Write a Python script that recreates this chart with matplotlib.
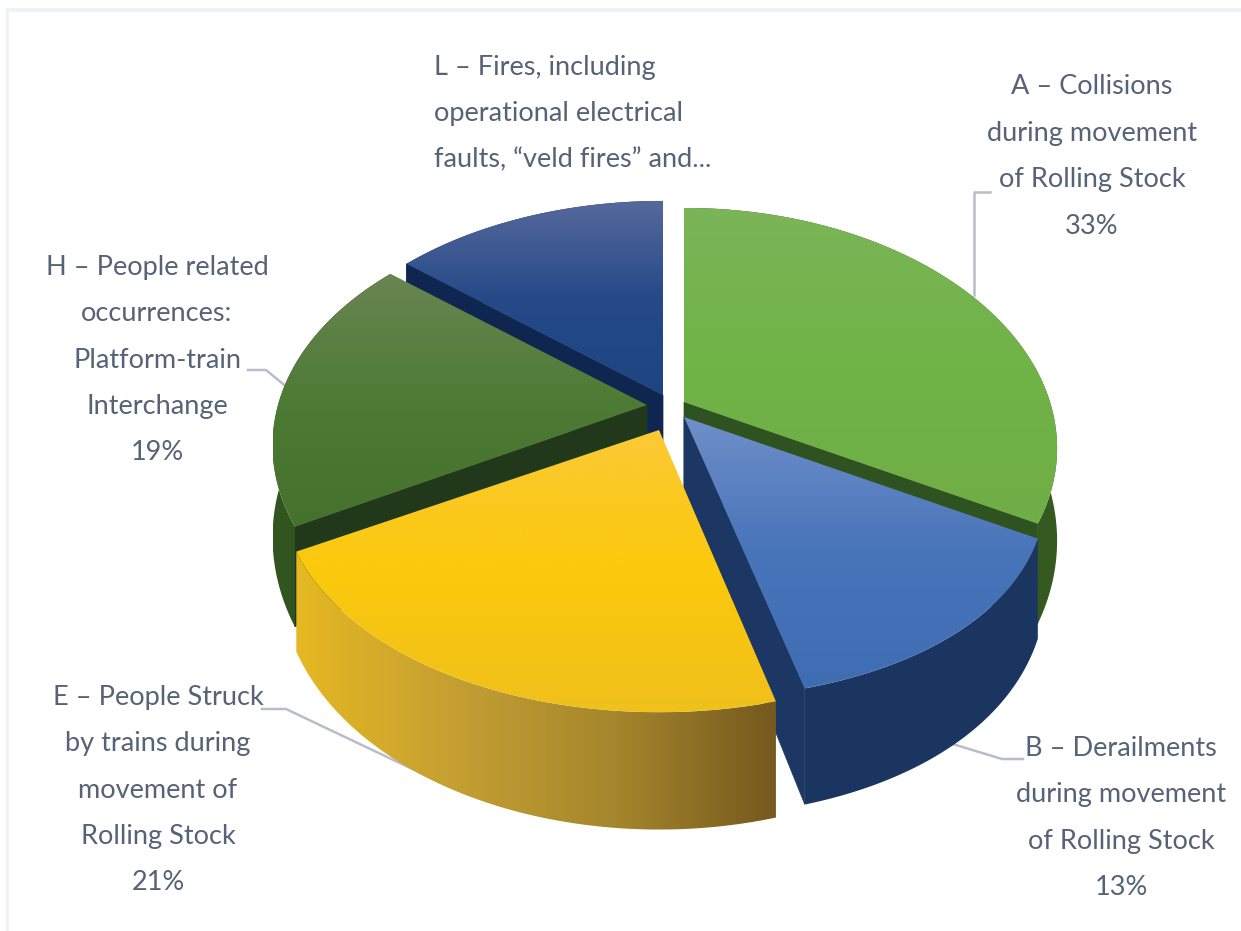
"""Exploded 3D-style pie of occurrence categories, drawn from flat polygons."""

import matplotlib

matplotlib.use("Agg")
import matplotlib.pyplot as plt
import numpy as np
from matplotlib.colors import LinearSegmentedColormap
from matplotlib.patches import Polygon, Rectangle

# Share of occurrences per category, clockwise from twelve o'clock
CATEGORIES = ["A", "B", "E", "H", "L"]
SHARES = [33, 13, 21, 19, 14]

LABEL_A = ["A – Collisions", "during movement", "of Rolling Stock", "33%"]
LABEL_B = ["B – Derailments", "during movement", "of Rolling Stock", "13%"]
LABEL_E = ["E – People Struck", "by trains during", "movement of", "Rolling Stock", "21%"]
LABEL_H = ["H – People related", "occurrences:", "Platform-train", "Interchange", "19%"]
LABEL_L = ["L – Fires, including", "operational electrical", "faults, “veld fires” and..."]

# Pixel position of each slice's tip after exploding
APEX = {"A": (684, 402), "B": (684, 417), "E": (659, 430), "H": (647, 405), "L": (663, 395)}
# Horizontal radius and perspective strength for each slice
SHAPE_X = {"A": (366, 0.194), "B": (346, 0.297), "E": (370, 0.22), "H": (369, 0.17), "L": (369, 0.17)}
# Which cut edge of a slice faces the viewer: first or last rim point, None if neither
CUT_EDGE = {"A": -1, "B": -1, "E": None, "H": 0, "L": 0}

TOP_STOPS = {
    "A": ["#7bb558", "#70b346", "#6fae47"],
    "B": ["#6f8fc8", "#4874ba", "#3f6db2"],
    "E": ["#fbc935", "#fbc90c", "#f0c01c"],
    "H": ["#6a8552", "#4d7b35", "#44722d"],
    "L": ["#56699c", "#264a88", "#1e4482"],
}
WALL_STOPS = {
    "A": ["#35591f", "#35591f"],
    "B": ["#1b3661", "#1a3560"],
    "E": ["#e6b822", "#c49f32", "#a5862c", "#75591f"],
    "H": ["#31561f", "#2c4f1d"],
    "L": ["#14305f", "#14305f"],
}
CUT_COLOR = {"A": "#2f5320", "B": "#1c3763", "H": "#22381a", "L": "#0f2650"}

DRAW_ORDER = ["L", "H", "A", "B", "E"]

# Vertical perspective of the tilted disc, in pixels
RADIUS_Y, PERSP_Y = 230, 0.185
DEPTH, PERSP_DEPTH = 88, 0.25

TEXT_COLOR = "#566276"
LEADER_COLOR = "#b9bdc9"
FONT = ["Lato", "DejaVu Sans"]
FONT_SIZE = 19.5
GROUND_Z = 2


def project(name, angle):
    """Screen position of a rim point of a slice; angle is clockwise from north."""
    apex = APEX[name]
    radius_x, persp_x = SHAPE_X[name]
    u = np.sin(angle)
    v = -np.cos(angle)
    x = apex[0] + radius_x * u / (1 - persp_x * v)
    y = apex[1] + RADIUS_Y * v / (1 - PERSP_Y * v)
    return np.column_stack([x, y]), v


def drop(points, v):
    """Shift top-surface points down to the bottom of the slab."""
    out = np.array(points, dtype=float)
    out[:, 1] += DEPTH / (1 - PERSP_DEPTH * v)
    return out


def fill_gradient(ax, points, stops, axis, zorder):
    """Fill a polygon with a linear gradient along 'x' or 'y'."""
    cmap = LinearSegmentedColormap.from_list("fill", stops)
    ramp = np.linspace(0, 1, 256)
    ramp = ramp[np.newaxis, :] if axis == "x" else ramp[:, np.newaxis]
    x0, y0 = points.min(axis=0)
    x1, y1 = points.max(axis=0)
    poly = Polygon(points, closed=True, transform=ax.transData, facecolor="none", edgecolor="none")
    ax.add_patch(poly)
    im = ax.imshow(ramp, cmap=cmap, extent=(x0, x1, y1, y0), origin="upper",
                   aspect="auto", zorder=zorder, interpolation="bilinear")
    im.set_clip_path(poly)


def draw_slice(ax, name, start, stop, zorder):
    apex = APEX[name]
    angles = np.linspace(start, stop, 160)
    rim, v = project(name, angles)
    bottom = drop(rim, v)
    apex_low = drop([apex], np.array([0.0]))[0]

    # rim wall first, the cut face over it and the top surface last
    wall = np.vstack([rim, bottom[::-1]])
    fill_gradient(ax, wall, WALL_STOPS[name], "x", zorder)
    idx = CUT_EDGE[name]
    if idx is not None:
        face = [apex, rim[idx], bottom[idx], apex_low]
        ax.add_patch(Polygon(face, closed=True, facecolor=CUT_COLOR[name],
                             edgecolor=CUT_COLOR[name], linewidth=0.5, zorder=zorder + 0.1))
    top = np.vstack([[apex], rim])
    fill_gradient(ax, top, TOP_STOPS[name], "y", zorder + 0.2)


def put_label(ax, lines, x, first_y, pitch, ha="center"):
    for i, line in enumerate(lines):
        ax.text(x, first_y + i * pitch, line, ha=ha, va="center", color=TEXT_COLOR,
                fontsize=FONT_SIZE, family=FONT, zorder=20)


fig = plt.figure(figsize=(12.41, 9.31), dpi=100)
ax = fig.add_axes([0, 0, 1, 1])
ax.axis("off")

# Faint frame along the top and left edges
ax.add_patch(Rectangle((7, 8), 1234, 4, facecolor="#eef1f5", edgecolor="none", zorder=1))
ax.add_patch(Rectangle((6, 8), 3, 923, facecolor="#eef1f5", edgecolor="none", zorder=1))

# Leader lines run underneath the slices
for xs, ys in [
    ([990, 974, 974], [192, 192, 295]),
    ([248, 266, 288], [370, 370, 388]),
    ([262, 286, 425], [709, 709, 775]),
    ([1023, 1002, 946], [759, 759, 742]),
]:
    ax.plot(xs, ys, color=LEADER_COLOR, linewidth=1.8, zorder=GROUND_Z)

edges = np.cumsum([0] + SHARES) / sum(SHARES) * 2 * np.pi
spans = {name: (edges[i], edges[i + 1]) for i, name in enumerate(CATEGORIES)}
for order, name in enumerate(DRAW_ORDER):
    draw_slice(ax, name, *spans[name], zorder=3 + order)

put_label(ax, LABEL_A, 1092, 87, 46.5)
put_label(ax, LABEL_B, 1121, 748, 46.5)
put_label(ax, LABEL_E, 158, 697, 46.5)
put_label(ax, LABEL_H, 157, 267, 46.5)
put_label(ax, LABEL_L, 434, 68, 46, ha="left")

ax.set_xlim(0, 1241)
ax.set_ylim(931, 0)
fig.savefig("out.png", dpi=100, facecolor="white")
plt.close(fig)
